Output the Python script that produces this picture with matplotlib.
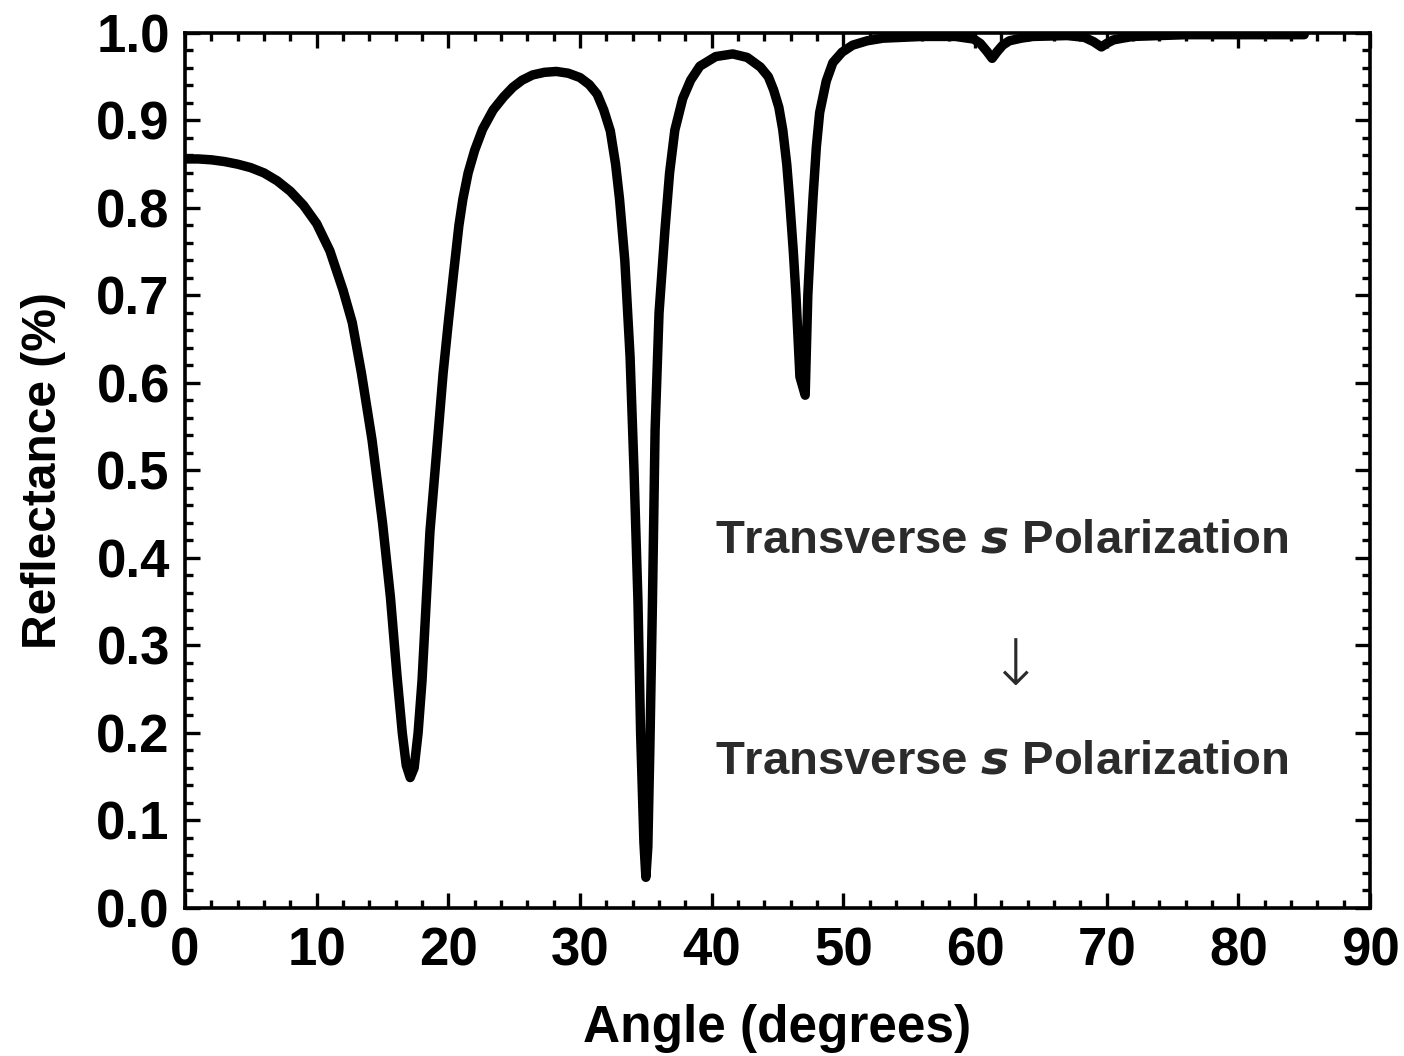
import matplotlib
matplotlib.use("Agg")
import matplotlib.pyplot as plt
from matplotlib.ticker import MultipleLocator, FormatStrFormatter

# reflectance curve (angle in degrees, R as fraction)
angle = [0, 1, 2, 3, 4, 5, 6, 7, 8, 9, 10, 11, 12, 12.7, 13.4, 14.2, 15.0,
         15.6, 16.1, 16.5, 16.8, 17.1, 17.4, 17.7, 18.0, 18.3, 18.6, 19.1,
         19.6, 20.0, 20.4, 20.8, 21.1, 21.5, 22.0, 22.6, 23.4, 24.2, 24.9,
         25.6, 26.4, 27.3, 28.2, 29.1, 30.0, 30.7, 31.3, 31.8, 32.3, 32.7,
         33.0, 33.4, 33.8, 34.1, 34.4, 34.6, 34.85, 35.0, 35.15, 35.3, 35.5,
         35.7, 36.0, 36.45, 36.8, 37.2, 37.8, 38.4, 39.1, 40.3, 41.6, 42.7,
         43.7, 44.3, 44.7, 45.1, 45.4, 45.7, 45.9, 46.2, 46.4, 46.7, 47.1,
         47.3, 47.5, 47.7, 47.95, 48.2, 48.7, 49.2, 49.9, 50.7, 51.8, 53.0,
         56.0, 58.5, 59.9, 60.4, 60.9, 61.3, 61.7, 62.1, 62.6, 63.5, 64.4,
         67.0, 68.3, 69.0, 69.6, 70.0, 70.5, 71.2, 72.0, 76.0, 85.0]
reflectance = [0.856, 0.856, 0.855, 0.853, 0.850, 0.846, 0.840, 0.831, 0.819,
               0.803, 0.782, 0.751, 0.706, 0.669, 0.611, 0.535, 0.44, 0.355,
               0.265, 0.20, 0.163, 0.149, 0.16, 0.20, 0.26, 0.345, 0.43,
               0.52, 0.611, 0.67, 0.726, 0.78, 0.81, 0.84, 0.866, 0.89, 0.912,
               0.927, 0.938, 0.946, 0.952, 0.955, 0.956, 0.954, 0.949, 0.941,
               0.93, 0.912, 0.888, 0.85, 0.81, 0.74, 0.63, 0.50, 0.35, 0.20,
               0.075, 0.035, 0.07, 0.18, 0.35, 0.546, 0.68, 0.775, 0.84,
               0.889, 0.925, 0.946, 0.962, 0.973, 0.976, 0.972, 0.961, 0.95,
               0.935, 0.915, 0.889, 0.85, 0.813, 0.75, 0.70, 0.607, 0.586,
               0.70, 0.76, 0.813, 0.87, 0.909, 0.945, 0.966, 0.978, 0.986,
               0.991, 0.994, 0.996, 0.996, 0.993, 0.988, 0.979, 0.971, 0.979,
               0.986, 0.991, 0.994, 0.996, 0.997, 0.995, 0.99, 0.984, 0.988,
               0.992, 0.994, 0.996, 0.998, 0.998]

label_text = "Transverse $\\boldsymbol{s}$ Polarization"
text_color = "#2b2b2b"

plt.rcParams['font.family'] = ['Liberation Sans', 'DejaVu Sans']
plt.rcParams['mathtext.fontset'] = 'custom'
plt.rcParams['mathtext.it'] = 'Liberation Sans:bold:italic'

fig = plt.figure(figsize=(14.04, 10.56), dpi=100)
ax = fig.add_axes([0.1318, 0.1402, 0.8440, 0.8286])

ax.plot(angle, reflectance, color='black', linewidth=6.8,
        solid_joinstyle='round', solid_capstyle='round')

ax.set_xlim(0, 90)
ax.set_ylim(0, 1.0)
ax.xaxis.set_major_locator(MultipleLocator(10))
ax.xaxis.set_minor_locator(MultipleLocator(2))
ax.yaxis.set_major_locator(MultipleLocator(0.1))
ax.yaxis.set_minor_locator(MultipleLocator(0.02))
ax.yaxis.set_major_formatter(FormatStrFormatter('%.1f'))

ax.tick_params(which='both', direction='in', top=True, right=True, width=2.4)
ax.tick_params(which='major', length=11)
ax.tick_params(which='minor', length=6)
ax.tick_params(axis='x', which='major', pad=13, labelsize=38)
ax.tick_params(axis='y', which='major', pad=11, labelsize=38)
for lab in ax.get_xticklabels() + ax.get_yticklabels():
    lab.set_fontweight('bold')
for sp in ax.spines.values():
    sp.set_linewidth(2.6)

ax.set_xlabel('Angle (degrees)', fontsize=37, fontweight='bold', labelpad=20)
ax.set_ylabel('Reflectance (%)', fontsize=34.5, fontweight='bold', labelpad=22)

ax.text(62.05, 0.42, label_text, fontsize=34, fontweight='bold',
        color=text_color, ha='center', va='center')
# thin arrow glyph between the two labels
ax.text(63.0, 0.275, '\u2193', fontsize=46, color=text_color,
        ha='center', va='center', family=['DejaVu Sans'], fontweight='light')
ax.text(62.05, 0.167, label_text, fontsize=34, fontweight='bold',
        color=text_color, ha='center', va='center')

plt.savefig('out.png', dpi=100)
